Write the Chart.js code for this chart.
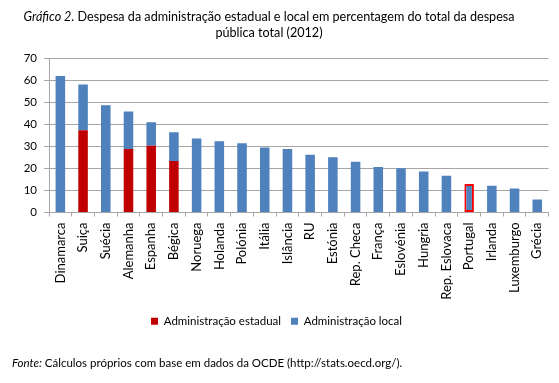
<!DOCTYPE html>
<html><head><meta charset="utf-8">
<script src="https://cdn.jsdelivr.net/npm/chart.js@4/dist/chart.umd.min.js"></script>
<style>
html,body{margin:0;padding:0;background:#fff;}
#wrap{position:relative;width:559px;height:383px;overflow:hidden;font-family:Lato,"Open Sans",sans-serif;color:#000;}
#title{position:absolute;left:0;top:9px;width:538px;text-align:center;font-size:12.6px;line-height:16px;}
#src{position:absolute;left:12px;top:355px;font-size:11.5px;line-height:16px;white-space:nowrap;}
canvas{position:absolute;left:0;top:0;}
</style></head>
<body><div id="wrap">
<canvas id="c" width="559" height="383"></canvas>
<div id="title"><i>Gráfico 2.</i> Despesa da administração estadual e local em percentagem do total da despesa<br>pública total (2012)</div>
<div id="src"><i>Fonte:</i> Cálculos próprios com base em dados da OCDE (http://stats.oecd.org/).</div>
</div>
<script>
const categories = ["Dinamarca","Suiça","Suécia","Alemanha","Espanha","Bégica","Noruega","Holanda","Polónia","Itália","Islância","RU","Estónia","Rep. Checa","França","Eslovénia","Hungria","Rep. Eslovaca","Portugal","Irlanda","Luxemburgo","Grécia"];
const estadual = [null,37.3,null,28.8,30.2,23.3,null,null,null,null,null,null,null,null,null,null,null,null,null,null,null,null];
const local = [61.8,20.7,48.6,17.0,10.7,13.1,33.5,32.3,31.4,29.4,28.8,26.2,25.0,23.0,20.6,20.0,18.6,16.7,12.9,12.1,10.9,5.9];
const highlighted = "Portugal";
const yTicks = [0,10,20,30,40,50,60,70];

const gridColor = '#a6a6a6';
Chart.defaults.font.family = 'Lato, "Open Sans", sans-serif';
Chart.defaults.color = '#000';

new Chart(document.getElementById('c'), {
  type: 'bar',
  data: {
    labels: categories,
    datasets: [
      {label: 'Administração estadual', data: estadual, backgroundColor: '#C00000', borderWidth: 0,
       categoryPercentage: 1, barPercentage: 0.42},
      {label: 'Administração local', data: local, backgroundColor: '#4F81BD',
       borderColor: categories.map(c => c === highlighted ? '#FF0000' : '#4F81BD'),
       borderWidth: categories.map(c => c === highlighted ? 2 : 0),
       borderSkipped: false,
       categoryPercentage: 1, barPercentage: 0.42}
    ]
  },
  options: {
    responsive: false,
    animation: false,
    layout: {padding: {left: 0, right: 6, top: 58, bottom: 46}},
    plugins: {
      legend: {
        position: 'bottom',
        labels: {boxWidth: 7, boxHeight: 7, padding: 10, font: {size: 11.5}, color: '#000',
          generateLabels: (chart) => chart.data.datasets.map((d, i) => ({
            text: d.label, fillStyle: d.backgroundColor, strokeStyle: d.backgroundColor, lineWidth: 0, datasetIndex: i, hidden: false
          }))}
      },
      tooltip: {enabled: false}
    },
    scales: {
      x: {
        stacked: true,
        grid: {drawOnChartArea: false, drawTicks: true, tickLength: 4, color: gridColor, offset: true},
        border: {color: gridColor},
        ticks: {minRotation: 90, maxRotation: 90, autoSkip: false, padding: 6, font: {size: 13}, color: '#000'},
        afterFit: (s) => { s.height = 93; }
      },
      y: {
        stacked: true, min: 0, max: 70,
        afterBuildTicks: (s) => { s.ticks = yTicks.map(v => ({value: v})); },
        grid: {color: gridColor, tickLength: 5},
        border: {color: gridColor},
        ticks: {padding: 7, font: {size: 11.5}, color: '#000'},
        afterFit: (s) => { s.width = 49; }
      }
    }
  }
});
</script>
</body></html>
